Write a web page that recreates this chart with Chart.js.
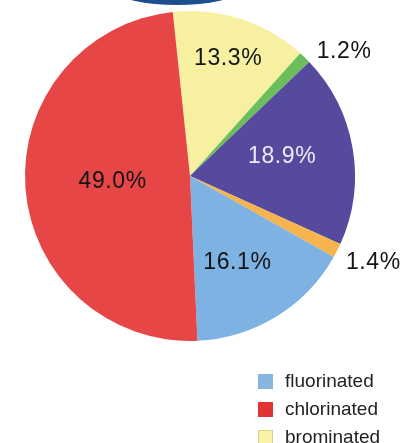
<!DOCTYPE html>
<html lang="en">
<head>
  <meta charset="UTF-8" />
  <title>Halogenated compounds</title>
  <script src="https://cdn.jsdelivr.net/npm/chart.js"></script>
  <style>
    html, body { margin: 0; padding: 0; background: #fff; overflow: hidden; }
    body { width: 404px; height: 443px; position: relative; font-family: "Liberation Sans", Arial, sans-serif; }
    #wrap { position: absolute; left: 0; top: 0; width: 404px; height: 443px; }
    .cap { position: absolute; left: 118px; top: -22px; width: 118px; height: 27px; border-radius: 50%; background: #1d4f8f; }
    .legend { position: absolute; left: 258px; top: 367px; color: #222; font-size: 19px; }
    .legend div { height: 28px; display: flex; align-items: center; }
    .legend span.box { width: 15px; height: 15px; margin-right: 12px; box-sizing: border-box; }
  </style>
</head>
<body>
  <div class="cap"></div>
  <div id="wrap"><canvas id="pie"></canvas></div>
  <div class="legend" id="legend"></div>

  <script>
    // slices clockwise from top
    const slices = ['brominated', 'green', 'purple', 'orange', 'fluorinated', 'chlorinated'];
    const values = [13.3, 1.2, 18.9, 1.4, 16.1, 49.0];
    const colors = ['#f6f0a0', '#6cbd5c', '#564a9e', '#f6b44f', '#7eb2e2', '#e64646'];
    const legendNames = ['fluorinated', 'chlorinated', 'brominated'];
    const legendColors = ['#86b6e0', '#e03434', '#f8f2a6'];

    // label placement: radius factor and angle nudge (deg)
    const labelRadius = [0.75, 1.2, 0.57, 1.23, 0.6, 0.47];
    const labelNudge = [0, 7, -2, -1.5, 3, 0];
    const labelColor = ['#141414', '#141414', '#ececf4', '#141414', '#141414', '#141414'];

    const legendEl = document.getElementById('legend');
    legendNames.forEach((name, i) => {
      const row = document.createElement('div');
      const box = document.createElement('span');
      box.className = 'box';
      box.style.background = legendColors[i];
      if (i === 2) box.style.border = '1px solid #d8d28a';
      row.appendChild(box);
      row.appendChild(document.createTextNode(name));
      legendEl.appendChild(row);
    });

    const pctLabels = {
      id: 'pctLabels',
      afterDatasetsDraw(chart) {
        const ctx = chart.ctx;
        const meta = chart.getDatasetMeta(0);
        ctx.save();
        ctx.font = '23px "Liberation Sans", Arial, sans-serif';
        ctx.letterSpacing = '0.6px';
        ctx.textAlign = 'center';
        ctx.textBaseline = 'middle';
        meta.data.forEach((arc, i) => {
          const mid = (arc.startAngle + arc.endAngle) / 2 + labelNudge[i] * Math.PI / 180;
          const r = arc.outerRadius * labelRadius[i];
          const x = arc.x + Math.cos(mid) * r;
          const y = arc.y + Math.sin(mid) * r;
          ctx.fillStyle = labelColor[i];
          ctx.fillText(values[i].toFixed(1) + '%', x, y);
        });
        ctx.restore();
      }
    };

    new Chart(document.getElementById('pie'), {
      type: 'pie',
      data: {
        labels: slices,
        datasets: [{ data: values, backgroundColor: colors, borderWidth: 0 }]
      },
      options: {
        responsive: true,
        maintainAspectRatio: false,
        animation: false,
        rotation: -6,
        layout: { padding: { left: 25, right: 49, top: 11, bottom: 102 } },
        plugins: { legend: { display: false }, tooltip: { enabled: false } }
      },
      plugins: [pctLabels]
    });
  </script>
</body>
</html>
